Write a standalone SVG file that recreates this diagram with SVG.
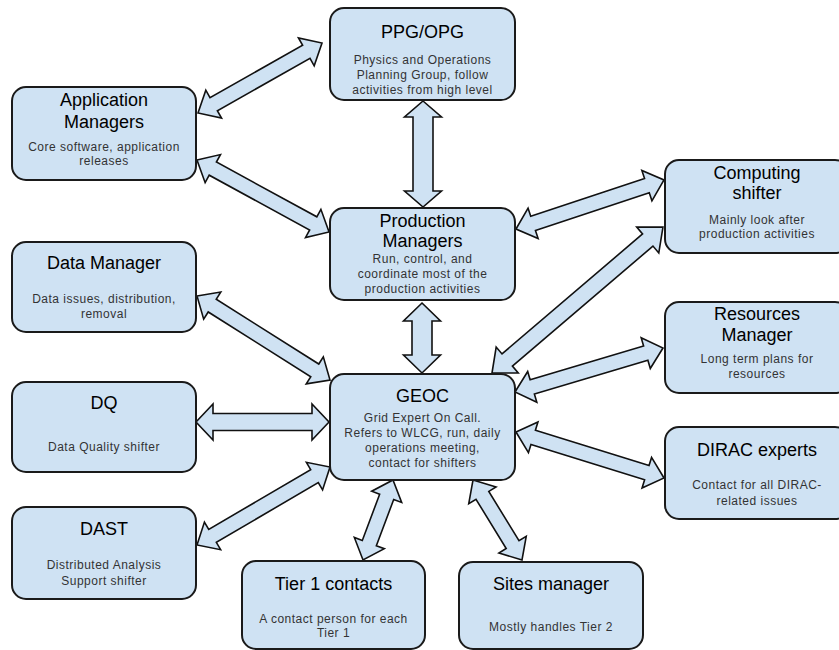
<svg xmlns="http://www.w3.org/2000/svg" width="839" height="650" viewBox="0 0 839 650">
<style>
.box{fill:#cfe2f3;stroke:#1a1a1a;stroke-width:2}
.arr{fill:#cfe2f3;stroke:#111;stroke-width:1.6;stroke-linejoin:miter}
.t{font-family:"Liberation Sans",Arial,sans-serif;font-size:18px;fill:#000;text-anchor:middle}
.s{font-family:"Liberation Sans",Arial,sans-serif;font-size:12px;fill:#333;text-anchor:middle;letter-spacing:0.5px}
</style>
<rect width="839" height="650" fill="#fff"/>
<g id="connectors">
<path class="arr" transform="translate(198,113) rotate(-29.45)" d="M0,0 L18,-16 L18,-7.5 L124.4,-7.5 L124.4,-16 L142.4,0 L124.4,16 L124.4,7.5 L18,7.5 L18,16 Z"/>
<path class="arr" transform="translate(197,160) rotate(28.61)" d="M0,0 L18,-16 L18,-7.5 L132.4,-7.5 L132.4,-16 L150.4,0 L132.4,16 L132.4,7.5 L18,7.5 L18,16 Z"/>
<path class="arr" transform="translate(423,101) rotate(90)" d="M0,0 L16,-18.5 L16,-10 L90,-10 L90,-18.5 L106,0 L90,18.5 L90,10 L16,10 L16,18.5 Z"/>
<path class="arr" transform="translate(516,229) rotate(-18.32)" d="M0,0 L18,-16 L18,-7.5 L137.9,-7.5 L137.9,-16 L155.9,0 L137.9,16 L137.9,7.5 L18,7.5 L18,16 Z"/>
<path class="arr" transform="translate(197,296) rotate(32.27)" d="M0,0 L18,-16 L18,-7.5 L139.3,-7.5 L139.3,-16 L157.3,0 L139.3,16 L139.3,7.5 L18,7.5 L18,16 Z"/>
<path class="arr" transform="translate(492,373) rotate(-40.49)" d="M0,0 L20,-17 L20,-8 L204.8,-8 L204.8,-17 L224.8,0 L204.8,17 L204.8,8 L20,8 L20,17 Z"/>
<path class="arr" transform="translate(515,392) rotate(-16.56)" d="M0,0 L18,-16 L18,-7.5 L136.4,-7.5 L136.4,-16 L154.4,0 L136.4,16 L136.4,7.5 L18,7.5 L18,16 Z"/>
<path class="arr" transform="translate(516,432) rotate(17.27)" d="M0,0 L18,-16 L18,-7.5 L137,-7.5 L137,-16 L155,0 L137,16 L137,7.5 L18,7.5 L18,16 Z"/>
<path class="arr" transform="translate(196,422)" d="M0,0 L17,-18 L17,-8.5 L116,-8.5 L116,-18 L133,0 L116,18 L116,8.5 L17,8.5 L17,18 Z"/>
<path class="arr" transform="translate(197,545) rotate(-30.39)" d="M0,0 L18,-16 L18,-7.5 L136.2,-7.5 L136.2,-16 L154.2,0 L136.2,16 L136.2,7.5 L18,7.5 L18,16 Z"/>
<path class="arr" transform="translate(393,480) rotate(110.56)" d="M0,0 L18,-16 L18,-7.5 L67.4,-7.5 L67.4,-16 L85.4,0 L67.4,16 L67.4,7.5 L18,7.5 L18,16 Z"/>
<path class="arr" transform="translate(473,480) rotate(58.51)" d="M0,0 L18,-16 L18,-7.5 L75.8,-7.5 L75.8,-16 L93.8,0 L75.8,16 L75.8,7.5 L18,7.5 L18,16 Z"/>
<path class="arr" transform="translate(422,303) rotate(90)" d="M0,0 L18,-18.5 L18,-10 L52,-10 L52,-18.5 L70,0 L52,18.5 L52,10 L18,10 L18,18.5 Z"/>
</g>
<g id="ppg">
<rect class="box" x="330" y="8" width="185" height="92" rx="14"/>
<text class="t" x="422.5" y="38">PPG/OPG</text>
<text class="s" x="422.5" y="64">Physics and Operations</text>
<text class="s" x="422.5" y="79">Planning Group, follow</text>
<text class="s" x="422.5" y="94">activities from high level</text>
</g>
<g id="appmgr">
<rect class="box" x="12" y="87" width="184" height="93" rx="14"/>
<text class="t" x="104" y="106">Application</text>
<text class="t" x="104" y="128">Managers</text>
<text class="s" x="104" y="151">Core software, application</text>
<text class="s" x="104" y="165">releases</text>
</g>
<g id="prodmgr">
<rect class="box" x="330" y="208" width="185" height="92" rx="14"/>
<text class="t" x="422.5" y="227">Production</text>
<text class="t" x="422.5" y="247">Managers</text>
<text class="s" x="422.5" y="263">Run, control, and</text>
<text class="s" x="422.5" y="278">coordinate most of the</text>
<text class="s" x="422.5" y="293">production activities</text>
</g>
<g id="compshifter">
<rect class="box" x="665" y="160" width="184" height="93" rx="14"/>
<text class="t" x="757" y="179">Computing</text>
<text class="t" x="757" y="199">shifter</text>
<text class="s" x="757" y="224">Mainly look after</text>
<text class="s" x="757" y="238">production activities</text>
</g>
<g id="datamgr">
<rect class="box" x="12" y="242" width="184" height="90" rx="14"/>
<text class="t" x="104" y="269">Data Manager</text>
<text class="s" x="104" y="303">Data issues, distribution,</text>
<text class="s" x="104" y="318">removal</text>
</g>
<g id="resmgr">
<rect class="box" x="665" y="302" width="184" height="91" rx="14"/>
<text class="t" x="757" y="320">Resources</text>
<text class="t" x="757" y="341">Manager</text>
<text class="s" x="757" y="363">Long term plans for</text>
<text class="s" x="757" y="378">resources</text>
</g>
<g id="geoc">
<rect class="box" x="330" y="374" width="185" height="106" rx="14"/>
<text class="t" x="422.5" y="402">GEOC</text>
<text class="s" x="422.5" y="422">Grid Expert On Call.</text>
<text class="s" x="422.5" y="437">Refers to WLCG, run, daily</text>
<text class="s" x="422.5" y="452">operations meeting,</text>
<text class="s" x="422.5" y="467">contact for shifters</text>
</g>
<g id="dq">
<rect class="box" x="12" y="382" width="184" height="90" rx="14"/>
<text class="t" x="104" y="409">DQ</text>
<text class="s" x="104" y="451">Data Quality shifter</text>
</g>
<g id="dirac">
<rect class="box" x="665" y="427" width="184" height="92" rx="14"/>
<text class="t" x="757" y="456">DIRAC experts</text>
<text class="s" x="757" y="489">Contact for all DIRAC-</text>
<text class="s" x="757" y="505">related issues</text>
</g>
<g id="dast">
<rect class="box" x="12" y="507" width="184" height="92" rx="14"/>
<text class="t" x="104" y="535">DAST</text>
<text class="s" x="104" y="569">Distributed Analysis</text>
<text class="s" x="104" y="585">Support shifter</text>
</g>
<g id="tier1">
<rect class="box" x="242" y="561" width="183" height="88" rx="14"/>
<text class="t" x="333.5" y="590">Tier 1 contacts</text>
<text class="s" x="333.5" y="623">A contact person for each</text>
<text class="s" x="333.5" y="637">Tier 1</text>
</g>
<g id="sites">
<rect class="box" x="459" y="562" width="184" height="87" rx="14"/>
<text class="t" x="551" y="590">Sites manager</text>
<text class="s" x="551" y="631">Mostly handles Tier 2</text>
</g>
</svg>
